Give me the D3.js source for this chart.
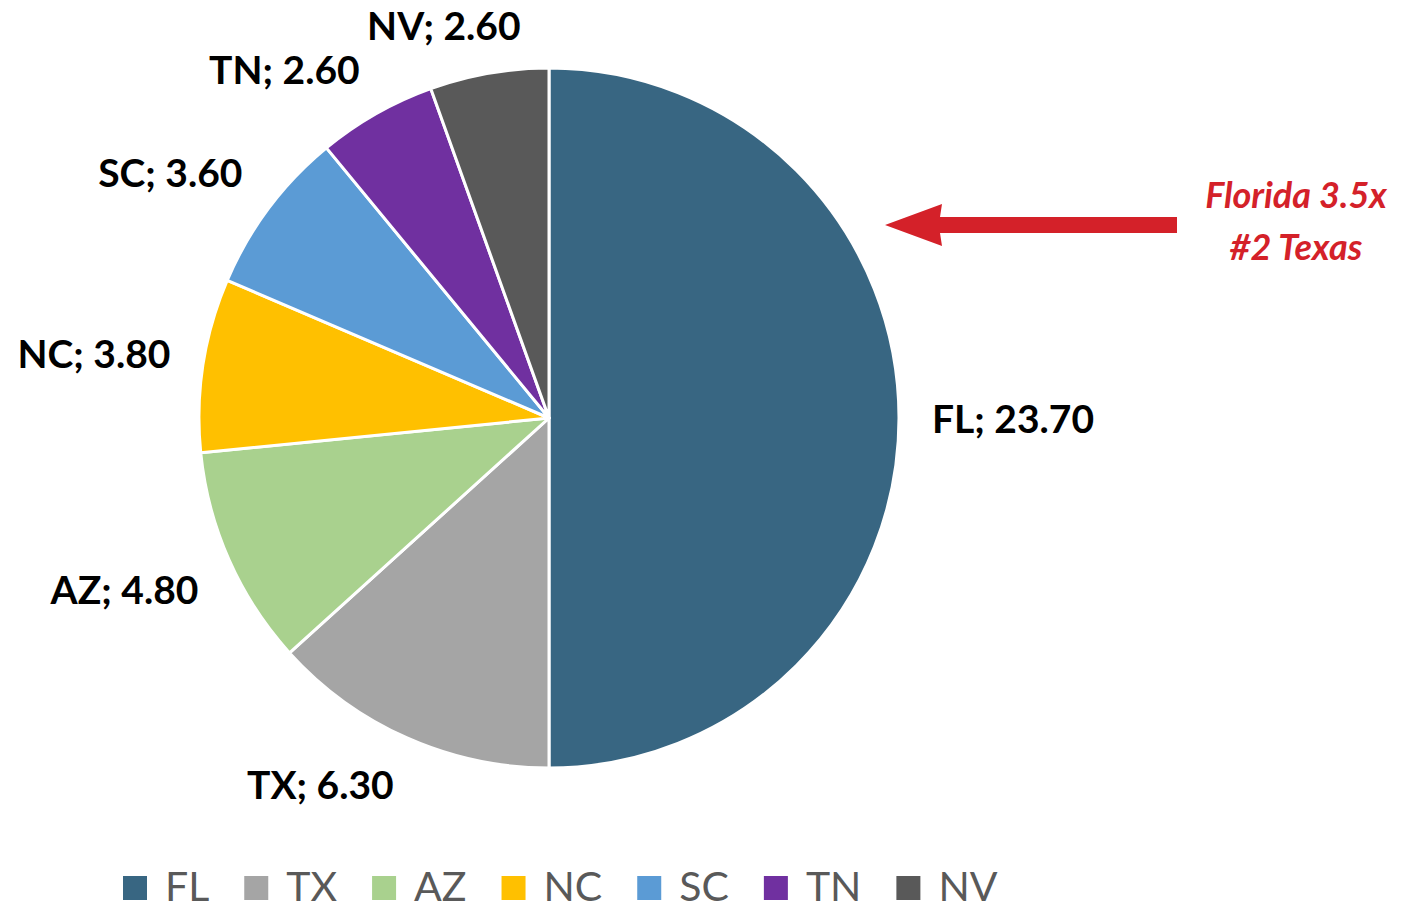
<!DOCTYPE html>
<html><head><meta charset="utf-8">
<script src="https://cdn.jsdelivr.net/npm/d3@7"></script>
<style>body{margin:0;background:#fff}svg{display:block}</style>
</head><body>
<svg id="c" width="1403" height="909"></svg>
<script>
const categories = ["FL","TX","AZ","NC","SC","TN","NV"];
const values = [23.7, 6.3, 4.8, 3.8, 3.6, 2.6, 2.6];
const colors = ["#386682","#A5A5A5","#A9D18E","#FFC000","#5B9BD5","#7030A0","#595959"];
const annotation = ["Florida 3.5x","#2 Texas"];

const svg = d3.select("#c");
const cx = 549, cy = 418, R = 350;
const data = categories.map((c,i)=>({cat:c, v:values[i], color:colors[i]}));
const pie = d3.pie().value(d=>d.v).sort(null);
const arcs = pie(data);
const arc = d3.arc().innerRadius(0).outerRadius(R);
const g = svg.append("g").attr("transform",`translate(${cx},${cy})`);
g.selectAll("path").data(arcs).join("path")
  .attr("d",arc).attr("fill",d=>d.data.color)
  .attr("stroke","#fff").attr("stroke-width",3).attr("stroke-linejoin","round");

const font = "Lato, 'Open Sans', sans-serif";
const fmt = d3.format(".2f");
const gap = 33;
const clamp = v => Math.max(-1, Math.min(1, v));
arcs.forEach(a=>{
  const m = (a.startAngle+a.endAngle)/2;
  const dx = Math.sin(m), dy = -Math.cos(m);
  const t = g.append("text").text(`${a.data.cat}; ${fmt(a.data.v)}`)
    .attr("font-family",font).attr("font-weight",700).attr("font-size",39)
    .attr("fill","#000").attr("text-anchor","middle").attr("dominant-baseline","central");
  const w = t.node().getBBox().width, h = 32;
  const px = (R+gap)*dx + clamp(dx*3)*w/2, py = (R+gap)*dy + clamp(dy*3)*h/2;
  t.attr("x",px).attr("y",py);
});

// legend
const legend = svg.append("g");
let lx = 123;
data.forEach(d=>{
  legend.append("rect").attr("x",lx).attr("y",876).attr("width",24).attr("height",24).attr("fill",d.color);
  const t = legend.append("text").attr("x",lx+42).attr("y",901).text(d.cat)
    .attr("font-family",font).attr("font-size",41).attr("fill","#595959");
  lx += 42 + t.node().getComputedTextLength() + 35;
});

// annotation arrow
const red = "#D42129";
svg.append("path")
  .attr("d","M1177,217 L940,217 L942,204 L885,225 L942,246 L940,233 L1177,233 Z")
  .attr("fill",red);
const at = svg.append("text").attr("font-family",font).attr("font-style","italic")
  .attr("font-weight",700).attr("font-size",36).attr("fill",red).attr("text-anchor","middle");
at.append("tspan").attr("x",1296).attr("y",208).text(annotation[0]);
at.append("tspan").attr("x",1296).attr("y",260).text(annotation[1]);
</script>
</body></html>
